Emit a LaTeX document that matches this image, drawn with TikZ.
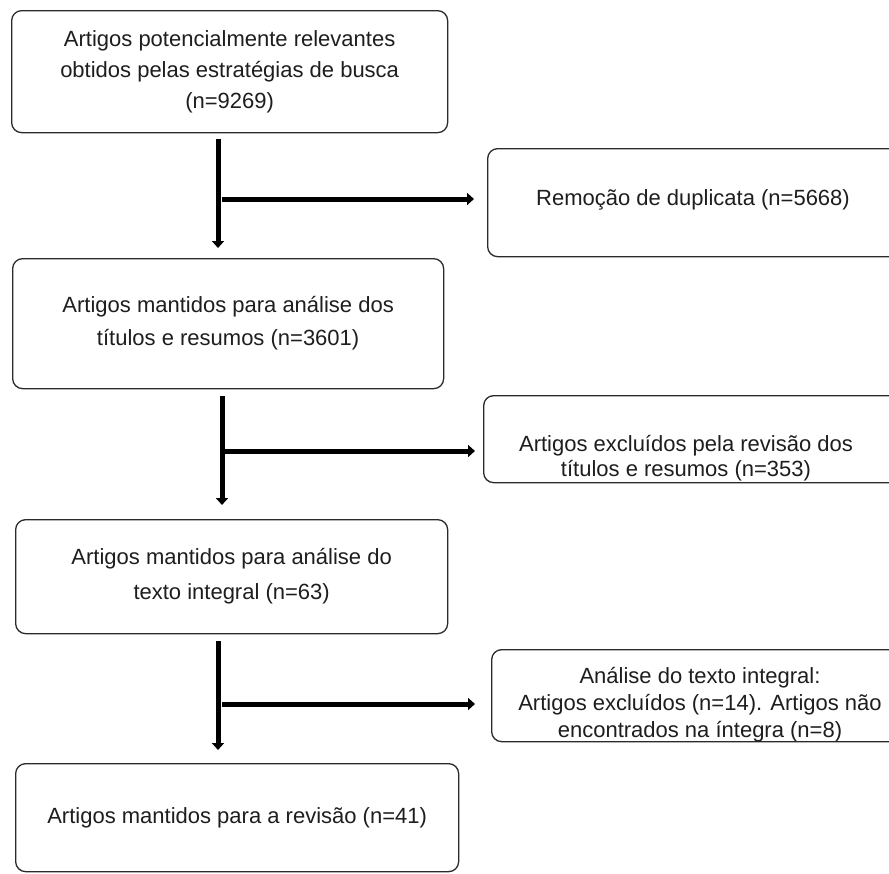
\documentclass[tikz,border=0pt]{standalone}
\usepackage{fontspec}
\setmainfont{Liberation Sans}
\usetikzlibrary{arrows.meta}
\definecolor{boxline}{HTML}{2A2A2A}
\definecolor{textcol}{HTML}{1E1E1E}
\begin{document}
\begin{tikzpicture}[x=1pt,y=-1pt,
  box/.style={draw=boxline, line width=1.3pt, rounded corners=10pt, inner sep=0pt, anchor=north west,
    text=textcol, align=center},
  txt/.style={text=textcol, align=center, inner sep=0pt},
  arr/.style={line width=5pt, -{Triangle[width=12pt,length=7pt]}},
  bar/.style={line width=5pt}]
\useasboundingbox (0,0) rectangle (889,873);
\clip (0,0) rectangle (889,873);
\fill[white] (0,0) rectangle (889,873);
% left column boxes
\node[box, minimum width=436pt, minimum height=122pt, font=\fontsize{22}{31}\selectfont] (b1) at (11,10)
  {Artigos potencialmente  relevantes\\obtidos pelas estratégias de busca\\(n=9269)};
\node[box, minimum width=431pt, minimum height=130pt, font=\fontsize{22}{33}\selectfont] (b2) at (12,258)
  {Artigos mantidos para análise dos\\títulos  e resumos (n=3601)};
\node[box, minimum width=432pt, minimum height=114pt, font=\fontsize{22}{35}\selectfont] (b3) at (15,519)
  {Artigos mantidos para análise do\\texto integral (n=63)};
\node[box, minimum width=443pt, minimum height=108pt, font=\fontsize{22}{31}\selectfont] (b4) at (15,763)
  {Artigos mantidos para a revisão (n=41)};
% right column boxes (cut by the right edge)
\node[box, minimum width=433pt, minimum height=108pt] (r1) at (487,148) {};
\node[box, minimum width=437pt, minimum height=87pt] (r2) at (483,395) {};
\node[box, minimum width=429pt, minimum height=92pt] (r3) at (491,649) {};
\node[txt, font=\fontsize{22}{31}\selectfont] (t1) at (693,200) {Remoção de duplicata (n=5668)};
\node[txt, font=\fontsize{22}{25}\selectfont] (t2) at (686,458) {Artigos excluídos  pela revisão dos\\títulos  e resumos (n=353)};
\node[txt, font=\fontsize{22}{27}\selectfont] (t3) at (700,705) {Análise do texto integral:\\Artigos excluídos  (n=14). Artigos não\\encontrados na íntegra (n=8)};
% connectors
\coordinate (v1) at (218,0);
\coordinate (v2) at (222,0);
\coordinate (v3) at (218,0);
\draw[arr, shorten <=6pt, shorten >=10pt] (b1.south -| v1) -- (b2.north -| v1);
\draw[arr, shorten <=7pt, shorten >=14pt] (b2.south -| v2) -- (b3.north -| v2);
\draw[arr, shorten <=7pt, shorten >=13pt] (b3.south -| v3) -- (b4.north -| v3);
\coordinate (h1) at (222,199);
\coordinate (h2) at (224,451);
\coordinate (h3) at (222,704);
\draw[arr, shorten >=13pt] (h1) -- (r1.west |- h1);
\draw[arr, shorten >=8pt] (h2) -- (r2.west |- h2);
\draw[arr, shorten >=16pt] (h3) -- (r3.west |- h3);
\end{tikzpicture}
\end{document}
